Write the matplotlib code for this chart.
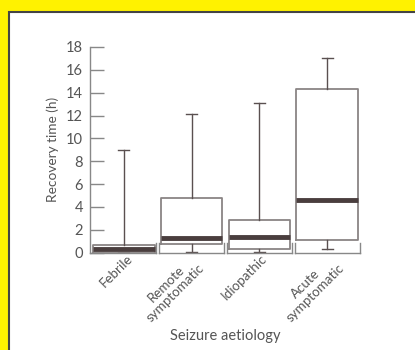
import matplotlib
matplotlib.use('Agg')
import matplotlib.pyplot as plt
import matplotlib.transforms as mtransforms
from matplotlib.patches import Rectangle

plt.rcParams['font.family'] = ['Lato', 'DejaVu Sans']

# values (hours)
categories = ['Febrile', 'Remote\nsymptomatic', 'Idiopathic', 'Acute\nsymptomatic']
medians = [0.35, 1.25, 1.4, 4.6]
q1 = [0.0, 0.75, 0.35, 1.1]
q3 = [0.7, 4.75, 2.9, 14.3]
whisk_lo = [0.0, 0.1, 0.1, 0.3]
whisk_hi = [9.0, 12.1, 13.1, 17.0]
yticks = [0, 2, 4, 6, 8, 10, 12, 14, 16, 18]

txt = '#555555'
line = '#5a5050'

fig = plt.figure(figsize=(4.15, 3.5), dpi=100)
fig.patch.set_facecolor('#fff200')
# white panel with dark edge on top/left
fig.patches.append(Rectangle((9/415, -0.05), 1.1, 1 - 12/350 + 0.05,
                             transform=fig.transFigure, facecolor='white',
                             edgecolor='#444444', lw=1.5, zorder=-10))

ax = fig.add_axes([90/415, 1 - 252.7/350, (361 - 90)/415, (252.7 - 47)/350])
ax.patch.set_alpha(0)

stats = []
for i in range(len(categories)):
    stats.append({'med': medians[i], 'q1': q1[i], 'q3': q3[i],
                  'whislo': whisk_lo[i], 'whishi': whisk_hi[i], 'fliers': []})

pos = list(range(len(categories)))
ax.bxp(stats, positions=pos, widths=0.91, showfliers=False, patch_artist=False,
       boxprops=dict(color='#8a8585', lw=1.3),
       whiskerprops=dict(color=line, lw=1.0),
       capprops=dict(color=line, lw=1.0),
       capwidths=0.16,
       medianprops=dict(color='#4a3e3e', lw=3.5, solid_capstyle='butt'))

ax.set_xlim(-0.5, 3.5)
ax.set_ylim(0, 18)
ax.set_yticks(yticks)
for s in ['top', 'right', 'bottom']:
    ax.spines[s].set_visible(False)
ax.spines['left'].set_color('#888888')
ax.spines['left'].set_linewidth(1.0)
ax.tick_params(axis='y', direction='in', length=10, width=1.0, color='#888888',
               labelcolor=txt, labelsize=10.5, pad=5)

# segmented baseline under each category
for p in pos:
    left = p - 0.5 if p == 0 else p - 0.48
    right = p + 0.48
    ax.plot([left, right], [0, 0], color='#888888', lw=1.0, clip_on=False,
            transform=ax.get_xaxis_transform())
    ends = [right] if p == 0 else [left, right]
    for e in ends:
        ax.plot([e, e], [0, 0.045], color='#888888', lw=1.0, clip_on=False,
                transform=ax.get_xaxis_transform())

ax.set_xticks(pos)
ax.set_xticklabels(categories, rotation=45, ha='right', va='top',
                   multialignment='center', color=txt, fontsize=9.6,
                   linespacing=1.1)
ax.tick_params(axis='x', length=0, pad=0)
# nudge labels to the right like the original
shifts = [11, 15, 10, 19]
for lab, dx in zip(ax.get_xticklabels(), shifts):
    lab.set_transform(lab.get_transform() +
                      mtransforms.ScaledTranslation(dx/100, 0, fig.dpi_scale_trans))

ax.set_xlabel('Seizure aetiology', color=txt, fontsize=10.5)
ax.xaxis.set_label_coords(0.5, -0.37)
ax.set_ylabel('Recovery time (h)', color=txt, fontsize=9.8)
ax.yaxis.set_label_coords(-0.115, 0.5)

fig.savefig('out.png', dpi=100, facecolor=fig.get_facecolor())
